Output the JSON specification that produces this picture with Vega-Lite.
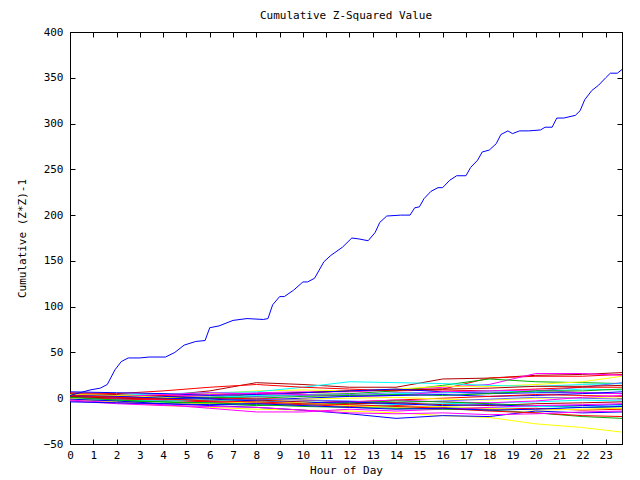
{
  "$schema": "https://vega.github.io/schema/vega-lite/v6.json",
  "width": 552,
  "height": 412,
  "autosize": "none",
  "padding": {"left": 70, "top": 32, "right": 18, "bottom": 36},
  "background": "white",
  "title": {"text": "Cumulative Z-Squared Value", "font": "DejaVu Sans Mono", "fontSize": 11, "fontWeight": "normal", "color": "black", "offset": 5},
  "config": {
    "view": {"stroke": "black", "strokeWidth": 1},
    "axis": {"grid": false, "domainColor": "black", "domainWidth": 1, "tickColor": "black", "tickSize": -5, "labelFont": "DejaVu Sans Mono", "labelFontSize": 11, "labelColor": "black", "titleFont": "DejaVu Sans Mono", "titleFontSize": 11, "titleFontWeight": "normal", "titleColor": "black"}
  },
  "datasets": {
    "cluster": [
      {"s":"s01","h":0,"v":5},{"s":"s01","h":2,"v":4},{"s":"s01","h":4,"v":3},{"s":"s01","h":6,"v":8},{"s":"s01","h":8,"v":17},{"s":"s01","h":10,"v":15},{"s":"s01","h":12,"v":12},{"s":"s01","h":14,"v":12},{"s":"s01","h":16,"v":21},{"s":"s01","h":18,"v":22},{"s":"s01","h":20,"v":25},{"s":"s01","h":22,"v":26},{"s":"s01","h":23.7,"v":28},
      {"s":"s02","h":0,"v":2},{"s":"s02","h":2,"v":1},{"s":"s02","h":4,"v":3},{"s":"s02","h":6,"v":4},{"s":"s02","h":8,"v":5},{"s":"s02","h":10,"v":6},{"s":"s02","h":12,"v":8},{"s":"s02","h":14,"v":9},{"s":"s02","h":16,"v":10},{"s":"s02","h":18,"v":22},{"s":"s02","h":20,"v":24},{"s":"s02","h":22,"v":24},{"s":"s02","h":23.7,"v":26},
      {"s":"s03","h":0,"v":-2},{"s":"s03","h":2,"v":0},{"s":"s03","h":4,"v":2},{"s":"s03","h":6,"v":4},{"s":"s03","h":8,"v":6},{"s":"s03","h":10,"v":7},{"s":"s03","h":12,"v":7},{"s":"s03","h":14,"v":9},{"s":"s03","h":16,"v":12},{"s":"s03","h":18,"v":15},{"s":"s03","h":20,"v":27},{"s":"s03","h":22,"v":27},{"s":"s03","h":23.7,"v":25},
      {"s":"s04","h":0,"v":3},{"s":"s04","h":2,"v":2},{"s":"s04","h":4,"v":1},{"s":"s04","h":6,"v":0},{"s":"s04","h":8,"v":2},{"s":"s04","h":10,"v":4},{"s":"s04","h":12,"v":5},{"s":"s04","h":14,"v":8},{"s":"s04","h":16,"v":14},{"s":"s04","h":18,"v":21},{"s":"s04","h":20,"v":18},{"s":"s04","h":22,"v":17},{"s":"s04","h":23.7,"v":16},
      {"s":"s05","h":0,"v":1},{"s":"s05","h":2,"v":3},{"s":"s05","h":4,"v":5},{"s":"s05","h":6,"v":5},{"s":"s05","h":8,"v":8},{"s":"s05","h":10,"v":9},{"s":"s05","h":12,"v":8},{"s":"s05","h":14,"v":10},{"s":"s05","h":16,"v":13},{"s":"s05","h":18,"v":13},{"s":"s05","h":20,"v":15},{"s":"s05","h":22,"v":18},{"s":"s05","h":23.7,"v":24},
      {"s":"s06","h":0,"v":2},{"s":"s06","h":2,"v":3},{"s":"s06","h":4,"v":5},{"s":"s06","h":6,"v":6},{"s":"s06","h":8,"v":7},{"s":"s06","h":10,"v":12},{"s":"s06","h":12,"v":18},{"s":"s06","h":14,"v":17},{"s":"s06","h":16,"v":16},{"s":"s06","h":18,"v":14},{"s":"s06","h":20,"v":13},{"s":"s06","h":22,"v":15},{"s":"s06","h":23.7,"v":16},
      {"s":"s07","h":0,"v":0},{"s":"s07","h":2,"v":-2},{"s":"s07","h":4,"v":-1},{"s":"s07","h":6,"v":0},{"s":"s07","h":8,"v":2},{"s":"s07","h":10,"v":3},{"s":"s07","h":12,"v":4},{"s":"s07","h":14,"v":6},{"s":"s07","h":16,"v":6},{"s":"s07","h":18,"v":6},{"s":"s07","h":20,"v":8},{"s":"s07","h":22,"v":12},{"s":"s07","h":23.7,"v":17},
      {"s":"s08","h":0,"v":6},{"s":"s08","h":2,"v":5},{"s":"s08","h":4,"v":8},{"s":"s08","h":6,"v":12},{"s":"s08","h":8,"v":15},{"s":"s08","h":10,"v":12},{"s":"s08","h":12,"v":10},{"s":"s08","h":14,"v":8},{"s":"s08","h":16,"v":9},{"s":"s08","h":18,"v":8},{"s":"s08","h":20,"v":10},{"s":"s08","h":22,"v":12},{"s":"s08","h":23.7,"v":12},
      {"s":"s09","h":0,"v":4},{"s":"s09","h":2,"v":3},{"s":"s09","h":4,"v":2},{"s":"s09","h":6,"v":1},{"s":"s09","h":8,"v":4},{"s":"s09","h":10,"v":6},{"s":"s09","h":12,"v":8},{"s":"s09","h":14,"v":9},{"s":"s09","h":16,"v":10},{"s":"s09","h":18,"v":11},{"s":"s09","h":20,"v":13},{"s":"s09","h":22,"v":13},{"s":"s09","h":23.7,"v":14},
      {"s":"s10","h":0,"v":7},{"s":"s10","h":2,"v":6},{"s":"s10","h":4,"v":5},{"s":"s10","h":6,"v":3},{"s":"s10","h":8,"v":4},{"s":"s10","h":10,"v":6},{"s":"s10","h":12,"v":8},{"s":"s10","h":14,"v":10},{"s":"s10","h":16,"v":7},{"s":"s10","h":18,"v":5},{"s":"s10","h":20,"v":6},{"s":"s10","h":22,"v":6},{"s":"s10","h":23.7,"v":5},
      {"s":"s11","h":0,"v":1},{"s":"s11","h":2,"v":0},{"s":"s11","h":4,"v":-1},{"s":"s11","h":6,"v":1},{"s":"s11","h":8,"v":3},{"s":"s11","h":10,"v":4},{"s":"s11","h":12,"v":2},{"s":"s11","h":14,"v":5},{"s":"s11","h":16,"v":6},{"s":"s11","h":18,"v":8},{"s":"s11","h":20,"v":7},{"s":"s11","h":22,"v":10},{"s":"s11","h":23.7,"v":9},
      {"s":"s12","h":0,"v":3},{"s":"s12","h":2,"v":2},{"s":"s12","h":4,"v":4},{"s":"s12","h":6,"v":6},{"s":"s12","h":8,"v":5},{"s":"s12","h":10,"v":4},{"s":"s12","h":12,"v":2},{"s":"s12","h":14,"v":3},{"s":"s12","h":16,"v":7},{"s":"s12","h":18,"v":8},{"s":"s12","h":20,"v":9},{"s":"s12","h":22,"v":6},{"s":"s12","h":23.7,"v":5},
      {"s":"s13","h":0,"v":0},{"s":"s13","h":2,"v":-1},{"s":"s13","h":4,"v":0},{"s":"s13","h":6,"v":1},{"s":"s13","h":8,"v":0},{"s":"s13","h":10,"v":2},{"s":"s13","h":12,"v":3},{"s":"s13","h":14,"v":4},{"s":"s13","h":16,"v":3},{"s":"s13","h":18,"v":5},{"s":"s13","h":20,"v":8},{"s":"s13","h":22,"v":8},{"s":"s13","h":23.7,"v":10},
      {"s":"s14","h":0,"v":2},{"s":"s14","h":2,"v":1},{"s":"s14","h":4,"v":2},{"s":"s14","h":6,"v":0},{"s":"s14","h":8,"v":-2},{"s":"s14","h":10,"v":0},{"s":"s14","h":12,"v":2},{"s":"s14","h":14,"v":3},{"s":"s14","h":16,"v":4},{"s":"s14","h":18,"v":2},{"s":"s14","h":20,"v":3},{"s":"s14","h":22,"v":5},{"s":"s14","h":23.7,"v":7},
      {"s":"s15","h":0,"v":-1},{"s":"s15","h":2,"v":-2},{"s":"s15","h":4,"v":-3},{"s":"s15","h":6,"v":-1},{"s":"s15","h":8,"v":0},{"s":"s15","h":10,"v":-2},{"s":"s15","h":12,"v":-4},{"s":"s15","h":14,"v":-2},{"s":"s15","h":16,"v":0},{"s":"s15","h":18,"v":2},{"s":"s15","h":20,"v":4},{"s":"s15","h":22,"v":3},{"s":"s15","h":23.7,"v":2},
      {"s":"s16","h":0,"v":4},{"s":"s16","h":2,"v":3},{"s":"s16","h":4,"v":1},{"s":"s16","h":6,"v":-2},{"s":"s16","h":8,"v":-3},{"s":"s16","h":10,"v":-1},{"s":"s16","h":12,"v":0},{"s":"s16","h":14,"v":1},{"s":"s16","h":16,"v":-1},{"s":"s16","h":18,"v":-2},{"s":"s16","h":20,"v":0},{"s":"s16","h":22,"v":1},{"s":"s16","h":23.7,"v":0},
      {"s":"s17","h":0,"v":1},{"s":"s17","h":2,"v":0},{"s":"s17","h":4,"v":-2},{"s":"s17","h":6,"v":-3},{"s":"s17","h":8,"v":-1},{"s":"s17","h":10,"v":-2},{"s":"s17","h":12,"v":-3},{"s":"s17","h":14,"v":-5},{"s":"s17","h":16,"v":-3},{"s":"s17","h":18,"v":-1},{"s":"s17","h":20,"v":1},{"s":"s17","h":22,"v":0},{"s":"s17","h":23.7,"v":-1},
      {"s":"s18","h":0,"v":-1},{"s":"s18","h":2,"v":-2},{"s":"s18","h":4,"v":-4},{"s":"s18","h":6,"v":-5},{"s":"s18","h":8,"v":-6},{"s":"s18","h":10,"v":-4},{"s":"s18","h":12,"v":-5},{"s":"s18","h":14,"v":-7},{"s":"s18","h":16,"v":-6},{"s":"s18","h":18,"v":-5},{"s":"s18","h":20,"v":-4},{"s":"s18","h":22,"v":-2},{"s":"s18","h":23.7,"v":-3},
      {"s":"s19","h":0,"v":2},{"s":"s19","h":2,"v":0},{"s":"s19","h":4,"v":-1},{"s":"s19","h":6,"v":-3},{"s":"s19","h":8,"v":-2},{"s":"s19","h":10,"v":-4},{"s":"s19","h":12,"v":-6},{"s":"s19","h":14,"v":-5},{"s":"s19","h":16,"v":-7},{"s":"s19","h":18,"v":-8},{"s":"s19","h":20,"v":-6},{"s":"s19","h":22,"v":-5},{"s":"s19","h":23.7,"v":-4},
      {"s":"s20","h":0,"v":0},{"s":"s20","h":2,"v":-1},{"s":"s20","h":4,"v":-2},{"s":"s20","h":6,"v":-4},{"s":"s20","h":8,"v":-6},{"s":"s20","h":10,"v":-5},{"s":"s20","h":12,"v":-4},{"s":"s20","h":14,"v":-2},{"s":"s20","h":16,"v":-4},{"s":"s20","h":18,"v":-5},{"s":"s20","h":20,"v":-3},{"s":"s20","h":22,"v":1},{"s":"s20","h":23.7,"v":3},
      {"s":"s21","h":0,"v":-2},{"s":"s21","h":2,"v":-3},{"s":"s21","h":4,"v":-4},{"s":"s21","h":6,"v":-6},{"s":"s21","h":8,"v":-8},{"s":"s21","h":10,"v":-7},{"s":"s21","h":12,"v":-5},{"s":"s21","h":14,"v":-3},{"s":"s21","h":16,"v":-4},{"s":"s21","h":18,"v":-6},{"s":"s21","h":20,"v":-8},{"s":"s21","h":22,"v":-10},{"s":"s21","h":23.7,"v":-11},
      {"s":"s22","h":0,"v":3},{"s":"s22","h":2,"v":2},{"s":"s22","h":4,"v":0},{"s":"s22","h":6,"v":-1},{"s":"s22","h":8,"v":-3},{"s":"s22","h":10,"v":-5},{"s":"s22","h":12,"v":-4},{"s":"s22","h":14,"v":-6},{"s":"s22","h":16,"v":-8},{"s":"s22","h":18,"v":-7},{"s":"s22","h":20,"v":-9},{"s":"s22","h":22,"v":-8},{"s":"s22","h":23.7,"v":-7},
      {"s":"s23","h":0,"v":1},{"s":"s23","h":2,"v":-1},{"s":"s23","h":4,"v":-2},{"s":"s23","h":6,"v":-4},{"s":"s23","h":8,"v":-5},{"s":"s23","h":10,"v":-7},{"s":"s23","h":12,"v":-9},{"s":"s23","h":14,"v":-8},{"s":"s23","h":16,"v":-10},{"s":"s23","h":18,"v":-12},{"s":"s23","h":20,"v":-11},{"s":"s23","h":22,"v":-13},{"s":"s23","h":23.7,"v":-12},
      {"s":"s24","h":0,"v":0},{"s":"s24","h":2,"v":-2},{"s":"s24","h":4,"v":-3},{"s":"s24","h":6,"v":-2},{"s":"s24","h":8,"v":-4},{"s":"s24","h":10,"v":-6},{"s":"s24","h":12,"v":-7},{"s":"s24","h":14,"v":-9},{"s":"s24","h":16,"v":-11},{"s":"s24","h":18,"v":-10},{"s":"s24","h":20,"v":-9},{"s":"s24","h":22,"v":-10},{"s":"s24","h":23.7,"v":-8},
      {"s":"s25","h":0,"v":-2},{"s":"s25","h":2,"v":-4},{"s":"s25","h":4,"v":-6},{"s":"s25","h":6,"v":-6},{"s":"s25","h":8,"v":-4},{"s":"s25","h":10,"v":-5},{"s":"s25","h":12,"v":-8},{"s":"s25","h":14,"v":-10},{"s":"s25","h":16,"v":-9},{"s":"s25","h":18,"v":-11},{"s":"s25","h":20,"v":-13},{"s":"s25","h":22,"v":-12},{"s":"s25","h":23.7,"v":-11},
      {"s":"s26","h":0,"v":0},{"s":"s26","h":2,"v":-4},{"s":"s26","h":4,"v":-8},{"s":"s26","h":6,"v":-10},{"s":"s26","h":8,"v":-12},{"s":"s26","h":10,"v":-13},{"s":"s26","h":12,"v":-14},{"s":"s26","h":14,"v":-16},{"s":"s26","h":16,"v":-19},{"s":"s26","h":18,"v":-21},{"s":"s26","h":20,"v":-28},{"s":"s26","h":22,"v":-32},{"s":"s26","h":23.7,"v":-37},
      {"s":"s27","h":0,"v":-1},{"s":"s27","h":2,"v":-3},{"s":"s27","h":4,"v":-6},{"s":"s27","h":6,"v":-8},{"s":"s27","h":8,"v":-10},{"s":"s27","h":10,"v":-13},{"s":"s27","h":12,"v":-17},{"s":"s27","h":14,"v":-22},{"s":"s27","h":16,"v":-19},{"s":"s27","h":18,"v":-20},{"s":"s27","h":20,"v":-14},{"s":"s27","h":22,"v":-16},{"s":"s27","h":23.7,"v":-15},
      {"s":"s28","h":0,"v":-2},{"s":"s28","h":2,"v":-5},{"s":"s28","h":4,"v":-7},{"s":"s28","h":6,"v":-11},{"s":"s28","h":8,"v":-15},{"s":"s28","h":10,"v":-15},{"s":"s28","h":12,"v":-12},{"s":"s28","h":14,"v":-14},{"s":"s28","h":16,"v":-12},{"s":"s28","h":18,"v":-10},{"s":"s28","h":20,"v":-8},{"s":"s28","h":22,"v":-7},{"s":"s28","h":23.7,"v":-6},
      {"s":"s29","h":0,"v":1},{"s":"s29","h":2,"v":-2},{"s":"s29","h":4,"v":-4},{"s":"s29","h":6,"v":-5},{"s":"s29","h":8,"v":-7},{"s":"s29","h":10,"v":-9},{"s":"s29","h":12,"v":-10},{"s":"s29","h":14,"v":-11},{"s":"s29","h":16,"v":-12},{"s":"s29","h":18,"v":-13},{"s":"s29","h":20,"v":-16},{"s":"s29","h":22,"v":-20},{"s":"s29","h":23.7,"v":-22},
      {"s":"s30","h":0,"v":3},{"s":"s30","h":2,"v":1},{"s":"s30","h":4,"v":-1},{"s":"s30","h":6,"v":-3},{"s":"s30","h":8,"v":-4},{"s":"s30","h":10,"v":-6},{"s":"s30","h":12,"v":-7},{"s":"s30","h":14,"v":-9},{"s":"s30","h":16,"v":-11},{"s":"s30","h":18,"v":-14},{"s":"s30","h":20,"v":-16},{"s":"s30","h":22,"v":-19},{"s":"s30","h":23.7,"v":-20},
      {"s":"s31","h":0,"v":-3},{"s":"s31","h":2,"v":-6},{"s":"s31","h":4,"v":-8},{"s":"s31","h":6,"v":-9},{"s":"s31","h":8,"v":-10},{"s":"s31","h":10,"v":-13},{"s":"s31","h":12,"v":-16},{"s":"s31","h":14,"v":-17},{"s":"s31","h":16,"v":-16},{"s":"s31","h":18,"v":-18},{"s":"s31","h":20,"v":-17},{"s":"s31","h":22,"v":-15},{"s":"s31","h":23.7,"v":-14},
      {"s":"s32","h":0,"v":-4},{"s":"s32","h":2,"v":-5},{"s":"s32","h":4,"v":-6},{"s":"s32","h":6,"v":-7},{"s":"s32","h":8,"v":-6},{"s":"s32","h":10,"v":-8},{"s":"s32","h":12,"v":-10},{"s":"s32","h":14,"v":-12},{"s":"s32","h":16,"v":-11},{"s":"s32","h":18,"v":-13},{"s":"s32","h":20,"v":-12},{"s":"s32","h":22,"v":-10},{"s":"s32","h":23.7,"v":-9}
    ],
    "main": [
      {"h":0,"v":3},{"h":0.43,"v":6},{"h":0.86,"v":9},{"h":1.3,"v":11},{"h":1.6,"v":15},{"h":1.93,"v":31},{"h":2.2,"v":40},{"h":2.5,"v":44},{"h":3.0,"v":44},{"h":3.4,"v":45},{"h":4.1,"v":45},{"h":4.5,"v":50},{"h":4.9,"v":58},{"h":5.4,"v":62},{"h":5.8,"v":63},{"h":6.0,"v":77},{"h":6.4,"v":79},{"h":7.0,"v":85},{"h":7.6,"v":87},{"h":8.3,"v":86},{"h":8.5,"v":87},{"h":8.7,"v":102},{"h":9.0,"v":111},{"h":9.2,"v":111},{"h":9.6,"v":118},{"h":10.0,"v":127},{"h":10.2,"v":127},{"h":10.5,"v":131},{"h":10.9,"v":149},{"h":11.2,"v":156},{"h":11.7,"v":165},{"h":12.1,"v":175},{"h":12.4,"v":174},{"h":12.8,"v":172},{"h":13.1,"v":181},{"h":13.3,"v":192},{"h":13.6,"v":199},{"h":14.2,"v":200},{"h":14.6,"v":200},{"h":14.8,"v":208},{"h":15.0,"v":209},{"h":15.2,"v":218},{"h":15.5,"v":226},{"h":15.8,"v":230},{"h":16.0,"v":230},{"h":16.3,"v":238},{"h":16.6,"v":243},{"h":17.0,"v":243},{"h":17.2,"v":252},{"h":17.5,"v":260},{"h":17.7,"v":269},{"h":18.0,"v":271},{"h":18.3,"v":278},{"h":18.5,"v":288},{"h":18.8,"v":292},{"h":19.0,"v":289},{"h":19.3,"v":292},{"h":19.7,"v":292},{"h":20.2,"v":293},{"h":20.4,"v":296},{"h":20.7,"v":296},{"h":20.9,"v":306},{"h":21.2,"v":306},{"h":21.7,"v":309},{"h":21.9,"v":314},{"h":22.1,"v":326},{"h":22.4,"v":336},{"h":22.7,"v":342},{"h":23.0,"v":350},{"h":23.2,"v":355},{"h":23.5,"v":355},{"h":23.7,"v":359}
    ]
  },
  "layer": [
    {
      "data": {"name": "cluster"},
      "mark": {"type": "line", "strokeWidth": 1},
      "encoding": {
        "x": {"field": "h", "type": "quantitative", "scale": {"domain": [0, 23.7], "nice": false, "zero": false},
              "axis": {"orient": "bottom", "title": "Hour of Day", "values": [0,1,2,3,4,5,6,7,8,9,10,11,12,13,14,15,16,17,18,19,20,21,22,23], "labelPadding": 10, "titlePadding": 4, "labelFlush": false}},
        "y": {"field": "v", "type": "quantitative", "scale": {"domain": [-50, 400], "nice": false, "zero": false},
              "axis": {"orient": "left", "title": "Cumulative (Z*Z)-1", "values": [-50,0,50,100,150,200,250,300,350,400], "labelPadding": 12, "titlePadding": 16, "labelFlush": false}},
        "color": {"field": "s", "type": "nominal", "legend": null,
                  "scale": {"domain": ["s01","s02","s03","s04","s05","s06","s07","s08","s09","s10","s11","s12","s13","s14","s15","s16","s17","s18","s19","s20","s21","s22","s23","s24","s25","s26","s27","s28","s29","s30","s31","s32"],
                            "range": ["#b00000","#ff0000","#ff00ff","#00b000","#ffff00","#00ffff","#6464ff","#ff0000","#b00000","#0000ff","#00ffff","#ff00ff","#00b000","#0000ff","#ff0000","#ffff00","#6464ff","#00ffff","#b00000","#ff00ff","#00b000","#0000ff","#ff0000","#00ffff","#ffff00","#ffff00","#0000ff","#ff00ff","#00b000","#ff0000","#ff00ff","#0000ff"]}}
      }
    },
    {
      "data": {"name": "main"},
      "mark": {"type": "line", "strokeWidth": 1, "color": "#0000ff"},
      "encoding": {
        "x": {"field": "h", "type": "quantitative", "axis": {"orient": "top", "labels": false, "title": null, "values": [0,1,2,3,4,5,6,7,8,9,10,11,12,13,14,15,16,17,18,19,20,21,22,23]}},
        "y": {"field": "v", "type": "quantitative", "axis": {"orient": "right", "labels": false, "title": null, "values": [-50,0,50,100,150,200,250,300,350,400]}}
      }
    }
  ],
  "resolve": {"axis": {"x": "independent", "y": "independent"}}
}
